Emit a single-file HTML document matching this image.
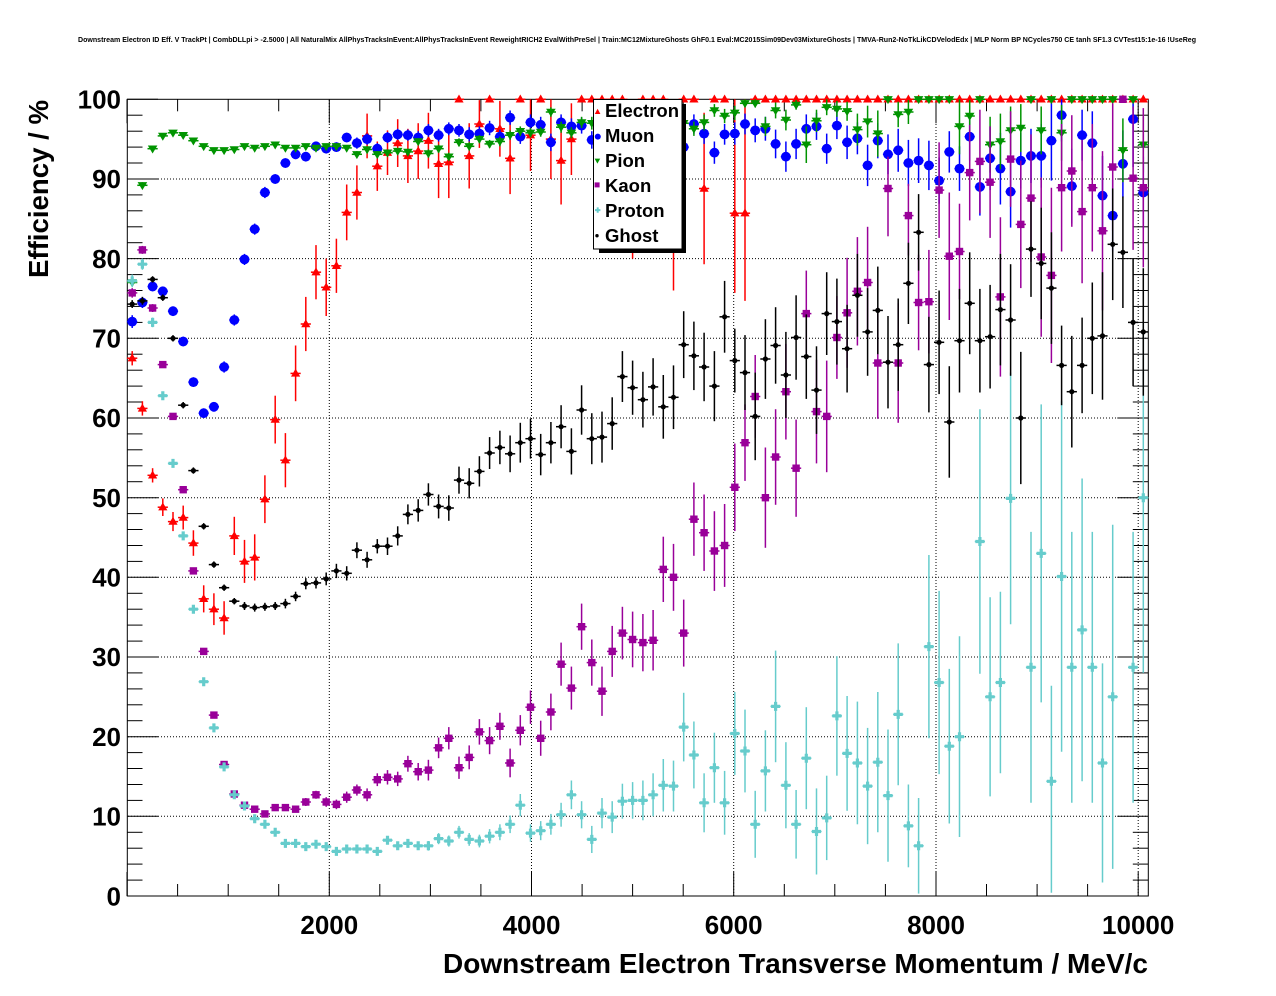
<!DOCTYPE html>
<html><head><meta charset="utf-8"><style>
html,body{margin:0;padding:0;background:#fff;}
svg{display:block;}
text{font-family:"Liberation Sans",Arial,sans-serif;font-weight:bold;fill:#000;}
</style></head><body>
<svg id="c" xmlns="http://www.w3.org/2000/svg" width="1276" height="996" viewBox="0 0 1276 996">
<rect width="1276" height="996" fill="#fff"/>
<text x="78" y="42" font-size="7.5" textLength="1118" lengthAdjust="spacingAndGlyphs">Downstream Electron ID Eff. V TrackPt | CombDLLpi &gt; -2.5000 | All NaturalMix AllPhysTracksInEvent:AllPhysTracksInEvent ReweightRICH2 EvalWithPreSel | Train:MC12MixtureGhosts GhF0.1 Eval:MC2015Sim09Dev03MixtureGhosts | TMVA-Run2-NoTkLikCDVelodEdx | MLP Norm BP NCycles750 CE tanh SF1.3 CVTest15:1e-16 !UseReg</text>
<g id="plot"></g>
<g font-size="26" text-anchor="end">
<text x="121" y="108.5">100</text>
<text x="121" y="188.2">90</text>
<text x="121" y="267.9">80</text>
<text x="121" y="347.5">70</text>
<text x="121" y="427.2">60</text>
<text x="121" y="506.9">50</text>
<text x="121" y="586.6">40</text>
<text x="121" y="666.2">30</text>
<text x="121" y="745.9">20</text>
<text x="121" y="825.6">10</text>
<text x="121" y="905.3">0</text>
</g>
<g font-size="26" text-anchor="middle">
<text x="329.3" y="934">2000</text>
<text x="531.5" y="934">4000</text>
<text x="733.7" y="934">6000</text>
<text x="936" y="934">8000</text>
<text x="1138.2" y="934">10000</text>
</g>
<text x="443" y="973" font-size="28" textLength="705" lengthAdjust="spacingAndGlyphs">Downstream Electron Transverse Momentum / MeV/c</text>
<text transform="translate(48,278) rotate(-90)" font-size="27.5" textLength="178" lengthAdjust="spacingAndGlyphs">Efficiency / %</text>
<g id="legend">
<rect x="599" y="104" width="87" height="149" fill="#000"/>
<rect x="593.5" y="99.5" width="88.5" height="149.5" fill="#fff" stroke="#000" stroke-width="1"/>
<path d="M597.6 108.8L600.4 114L594.8 114Z" fill="#ff0000"/>
<circle cx="597.8" cy="136.6" r="3" fill="#0000ff"/>
<path d="M597.4 163.6L600.2 158.6L594.6 158.6Z" fill="#009400"/>
<rect x="594.6" y="182.4" width="5" height="5" fill="#990099"/>
<path d="M595 209.1h5.4v2h-5.4zM596.7 207.4h2v5.4h-2z" fill="#66cccc"/>
<circle cx="597" cy="235.7" r="1.7" fill="#000"/>
<g font-size="18.5">
<text x="605" y="117">Electron</text>
<text x="605" y="142">Muon</text>
<text x="605" y="167">Pion</text>
<text x="605" y="192">Kaon</text>
<text x="605" y="217">Proton</text>
<text x="605" y="242">Ghost</text>
</g>
</g>
</svg>
<script>
(function(){
function X(i){return 132.16+10.214*i;}
function Y(v){return 896-7.967*v;}
function XT(t){return 127.05+t*0.101114;}
function f(n){return n.toFixed(1);}
function parse(s,fill){var a=s.split(';').map(function(t){if(t==='-')return null;return t.split(',').map(Number);});while(a.length<100)a.push(fill);return a;}
var h='';
h+='<g stroke="#000" stroke-width="1" stroke-dasharray="1,2">';
[2000,4000,6000,8000,10000].forEach(function(t){var x=f(XT(t));h+='<line x1="'+x+'" y1="100" x2="'+x+'" y2="896"/>';});
for(var v=10;v<100;v+=10){var y=f(Y(v));h+='<line x1="128" y1="'+y+'" x2="1148" y2="'+y+'"/>';}
h+='</g>';
h+='<g stroke="#000" stroke-width="1" fill="none"><rect x="127.3" y="99.3" width="1021" height="796.7"/>';
for(var v=0;v<=100;v+=2){var y=f(Y(v));var L=(v%10==0)?31:15.5;h+='<line x1="127" y1="'+y+'" x2="'+(127+L)+'" y2="'+y+'"/><line x1="1148.3" y1="'+y+'" x2="'+f(1148.3-L)+'" y2="'+y+'"/>';}
for(var t=0;t<=10000;t+=500){var x=f(XT(t));var L=(t%2000==0)?24:12;h+='<line x1="'+x+'" y1="896" x2="'+x+'" y2="'+(896-L)+'"/><line x1="'+x+'" y1="99.3" x2="'+x+'" y2="'+f(99.3+L)+'"/>';}
h+='</g>';
function tu(x,y,c){return '<path d="M'+f(x)+' '+f(y-4.8)+'L'+f(x+4.6)+' '+f(y+3.2)+'L'+f(x-4.6)+' '+f(y+3.2)+'Z" fill="'+c+'"/>';}
function td(x,y,c){return '<path d="M'+f(x)+' '+f(y+4.8)+'L'+f(x+4.8)+' '+f(y-3.2)+'L'+f(x-4.8)+' '+f(y-3.2)+'Z" fill="'+c+'"/>';}
function ci(r){return function(x,y,c){return '<circle cx="'+f(x)+'" cy="'+f(y)+'" r="'+r+'" fill="'+c+'"/>';};}
function sq(x,y,c){return '<rect x="'+f(x-3.7)+'" y="'+f(y-3.7)+'" width="7.4" height="7.4" fill="'+c+'"/>';}
function cr(x,y,c){return '<path d="M'+f(x-4.5)+' '+f(y-1.6)+'h9v3.2h-9zM'+f(x-1.6)+' '+f(y-4.5)+'h3.2v9h-3.2z" fill="'+c+'"/>';}
function pts(arr,col,mk){
 var out='';
 for(var i=0;i<arr.length;i++){var d=arr[i];if(!d)continue;var v=d[0],eu=d.length>1?d[1]:0,ed=d.length>2?d[2]:eu;
  var x=X(i),y=Y(v);
  if(eu>0||ed>0){var y1=Y(Math.min(100,v+eu)),y2=Y(Math.max(0,v-ed));out+='<line x1="'+f(x)+'" y1="'+f(y1)+'" x2="'+f(x)+'" y2="'+f(y2)+'" stroke="'+col+'" stroke-width="1.5"/>';}
  out+='<line x1="'+f(x-5.1)+'" y1="'+f(y)+'" x2="'+f(x+5.1)+'" y2="'+f(y)+'" stroke="'+col+'" stroke-width="1.5"/>';
  out+=mk(x,y,col);
 }
 return out;
}
var E=parse("67.5,.9;61.2,.9;52.8,.9;48.8,1.1;47,1.2;47.5,1.5;44.3,1.6;37.3,1.7;36,2;34.9,2.1;45.2,2.4;42,2.7;42.5,2.9;49.8,3;59.8,3;54.7,3.4;65.6,3.5;71.8,3.4;78.3,3.4;76.4,3.6;79.1,3.4;85.8,3.5;88.3,3.4;95.4,2.8;91.6,3.1;93.3,2.8;94.5,3;92.9,3.4;93.5,3.5;94.8,3.5;91.9,4.3;92.1,4.5;100;92.9,4.1;96.9,3;100;96.3,3.5;92.6,4.5;100;95.5,4.5;100;95,5;92.3,5.5;95,4.5;100;100;100;100;100;90,10;100;100;100;92,16;100;100;88.8,9.5;100;100;85.7,14.3,10;85.7,14.3,11",[100]);
var M=parse("72.1,.8;74.5,.7;76.5,.6;75.9,.6;73.4,.6;69.6,.6;64.5,.6;60.6,.6;61.4,.6;66.4,.7;72.3,.7;79.9,.7;83.7,.7;88.3,.7;90,.6;92,.6;93.1,.6;92.8,.6;94.1,.6;93.8,.6;94,.6;95.2,.6;94.5,.7;95,.7;93.8,.7;95.2,.7;95.6,.7;95.5,.7;95.2,.8;96.1,.8;95.5,.8;96.3,.8;96.1,.8;95.6,.9;95.7,.9;96.4,.9;95.3,.9;97.7,.9;95.3,.9;97.1,1;96.8,1;94.6,1.1;97.1,1;96.6,1;96.7,1;94.9,1.1;96,1.1;96,1.1;96,1.1;96,1.1;96,1.1;96,1.1;96,1.1;96,1.1;94,1.2;96.9,1.2;95.7,1.3;93.3,1.4;95.6,1.3;95.7,1.4;96.9,1.3;96.1,1.5;96.3,1.5;94.4,1.8;92.8,1.9;94.4,1.9;96.3,1.8;96.6,1.7;93.8,1.9;96.7,1.7;94.6,2.1;95.1,2;91.7,2.6;94.8,2.2;93.1,2.5;93.6,2.7;92,2.9;92.3,2.8;91.7,3.1;89.8,2.9;93.4,2.6;91.3,2.8;95.3,3;89,3.6;92.6,4;91.3,4.5;88.4,4.5;92.3,3.5;92.9,3.4;92.9,4;94.8,5;98,2,3.3;89.1,4.7;95.5,3.2;94.5,4;87.9,5;85.4,4.5;91.9,4.2;97.5,5,6;88.3,4.5",null);
var P=parse("77,.5;89.2,.4;93.8,.3;95.4,.3;95.8,.3;95.5,.3;94.8,.3;94.1,.3;93.6,.3;93.6,.3;93.7,.3;94.1,.3;93.9,.3;94.1,.3;94.3,.3;93.9,.3;93.9,.3;94.1,.3;93.9,.3;94.1,.3;94.1,.3;93.9,.3;93.1,.4;93.7,.4;93.1,.4;93.3,.4;93.5,.4;93.4,.4;94.7,.4;93.2,.5;93.8,.5;92.8,.5;94.6,.5;94.1,.5;95,.5;94.4,.5;94.7,.6;95.5,.6;96,.6;95.8,.6;95.9,.6;98.4,.6;96.5,.7;95.8,.7;97.1,.7;97,.8;97,.8;97,.8;97,.8;97,.8;97,.8;97,.8;97,.8;97,.8;97,.8;96.3,.9;97.1,1;98.6,.8;97.9,.9;98.3,.9;99.5,.5;99.5,.5;96.6,1.2;98.6,1;97.4,1.3;99.3,.6;94.3,2.3;97.3,1.4;99,1;98.8,1;98.5,1.2;96.2,2;97.2,2;95.7,2.9;100;98.1,1.6;98.4,1.5;100;100;100;100;96.6,3.5;97.9,2;100;94.3,3.5;94.7,3.5;96.1,3;96.4,3;100;96.1,3;100;95.8,3.5;100;100;100;100;100;93.6,4;100;94.3,3.5",null);
var K=parse("75.7,.6;81.1,.5;73.8,.5;66.7,.4;60.2,.4;51,.4;40.8,.4;30.7,.4;22.7,.3;16.5,.3;12.8,.3;11.4,.3;10.9,.3;10.3,.3;11.1,.4;11.1,.4;10.9,.4;11.8,.5;12.7,.5;11.8,.6;11.5,.6;12.4,.7;13.3,.7;12.7,.8;14.6,.8;14.9,.9;14.7,.9;16.6,1;15.6,1.1;15.8,1.3;18.6,1.3;19.8,1.4;16.1,1.4;17.4,1.5;20.6,1.6;19.5,1.7;21.3,1.7;16.7,1.8;20.8,1.9;23.7,2.1;19.8,2.2;23.1,2.3;29.1,2.7;26.1,2.7;33.8,2.9;29.3,2.9;25.7,3.1;30.7,3.2;33,3.3;32.2,3.5;31.8,3.6;32.1,3.8;41,4.1;40,4.2;33,4.2;47.3,4.6;45.6,4.8;43.3,5;44,5.2;51.3,5.5;56.9,4.8;62.7,5.2;50,6.3;55.1,6;63.3,6;53.7,6.1;73.1,5.4;60.8,6.5;60.2,7;70.1,5.2;73.2,6.9;75.9,6.8;77,7;66.9,7;88.8,4,6;66.9,7.5;85.4,4,5;74.5,6;74.6,6.5;88.6,6;80.3,8;80.9,6;90.8,6;92.2,6.5;89.6,7;75.2,10;92.5,6;84.3,8;87.6,8;80.2,10;77.9,11;88.9,8;91,7;85.9,9;88.9,8;83.5,10;91.5,8;100;90.1,9;88.9,10",null);
var R=parse("77.2,.8;79.3,.7;72,.6;62.8,.5;54.3,.5;45.2,.4;36,.4;26.9,.3;21.1,.3;16.2,.3;12.7,.3;11.3,.3;9.7,.3;9,.3;8,.3;6.6,.3;6.6,.3;6.2,.3;6.5,.3;6.2,.3;5.6,.3;5.9,.4;5.9,.4;5.9,.4;5.6,.4;7,.5;6.3,.5;6.6,.5;6.3,.5;6.3,.6;7.2,.7;6.9,.7;8,.8;7.1,.8;6.9,.8;7.5,.9;8,1;9,1.1;11.4,1.4;7.9,1.1;8.2,1.2;9,1.3;10.2,1.5;12.7,1.8;10.2,1.7;7.1,1.7;10.4,1.9;9.9,2;11.9,2.2;12,2.3;12,2.5;12.7,2.7;13.9,3.3;13.8,3.2;21.2,4.3;17.7,4.2;11.7,3.7;16.1,4.4;11.7,4;20.4,5.2;18.2,5.2;9,4.2;15.7,5.1;23.8,7;13.9,5.4;9,4.3;17.3,6.4;8.1,5.4;9.8,5.3;22.6,7.5;17.9,7.2;16.7,7.7;13.8,7.3;16.8,8.8;12.6,8.3;22.8,8.9;8.8,5.2;6.3,6;31.3,11.5;26.8,11.5;18.8,9.7;20,12.6;-;44.5,16.6;25,12.5;26.8,11.4;49.9,15.8;-;28.7,17;43,18.7;14.4,12,14;40.1,22;28.7,17;33.4,19;28.7,17;16.7,12.5,15;25,21.6;-;28.7,17;50,22",null);
var G=parse("74.3,.5;74.7,.5;77.4,.4;75.1,.4;70,.4;61.6,.4;53.4,.4;46.4,.4;41.6,.4;38.7,.4;37,.4;36.4,.5;36.2,.5;36.3,.5;36.4,.5;36.7,.6;37.6,.6;39.2,.7;39.3,.7;39.8,.8;40.8,.9;40.5,.9;43.4,1;42.2,1;43.9,.9;43.9,1.1;45.2,1.2;47.9,1.25;48.4,1.4;50.4,1.4;48.9,1.5;48.7,1.6;52.2,1.7;51.8,1.9;53.3,1.9;55.6,2;56.3,2.1;55.5,2.3;56.9,2.5;57.4,2.5;55.4,2.6;56.9,2.6;58.9,2.7;55.8,2.9;61,3.1;57.4,3.2;57.6,3.2;59.3,3.3;65.2,3.2;63.8,3.4;62.3,3.5;63.9,3.6;61.4,4;62.6,4;69.2,4.2;67.8,4.3;66.4,4.3;64,4.4;72.7,4.5;67.2,4;65.7,4.7;60.2,5.5;67.4,5;69.1,4.8;65.4,5.4;70.1,5.3;67.7,5.3;63.5,5.5;73.1,5.2;72.1,5.4;68.7,5.5;75.4,5.2;70.8,5.5;73.5,5.5;67,5.8;69.2,5.8;76.9,5.1;83.3,4.8;66.7,6;69.5,6.5;59.5,7;69.7,6.5;74.4,6.4;69.7,6.5;70.2,6.5;73.6,7;72.3,7;60,8.3;81.2,6;79.4,7;76.3,7;66.6,5;63.3,7;66.6,6;70,7;70.3,8;81.8,7;80.8,7;72,8;70.8,8",null);
h+=pts(E,'#ff0000',tu);
h+=pts(M,'#0000ff',ci(4.9));
h+=pts(P,'#009400',td);
h+=pts(K,'#990099',sq);
h+=pts(R,'#66cccc',cr);
h+=pts(G,'#000000',ci(2.6));
document.getElementById('plot').innerHTML=h;
})();
</script>
</body></html>
